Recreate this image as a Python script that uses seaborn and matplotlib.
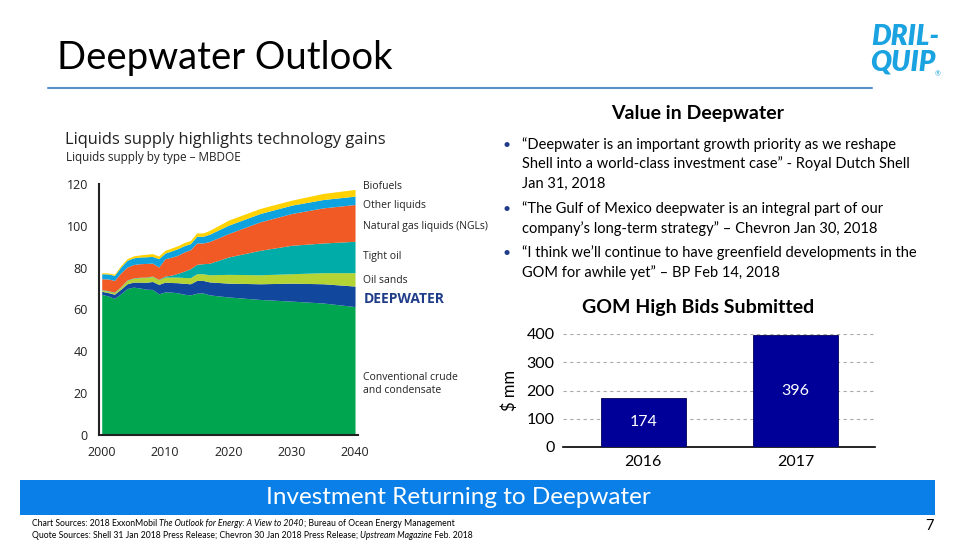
import numpy as np
import pandas as pd
import seaborn as sns
import matplotlib.pyplot as plt

# ---- liquids supply by type (MBDOE) ----
years = [2000, 2001, 2002, 2003, 2004, 2005, 2006, 2007, 2008, 2009, 2010, 2011,
         2012, 2013, 2014, 2015, 2016, 2017, 2020, 2025, 2030, 2035, 2040]
conventional = [67.2, 66.5, 65.3, 67.5, 70.0, 70.7, 70.3, 69.7, 69.6, 67.5, 68.4, 68.3,
                68.0, 67.3, 67.0, 67.8, 67.9, 67.0, 66.0, 64.8, 64.0, 63.1, 61.4]
deepwater = [1.5, 1.6, 2.0, 2.2, 2.3, 2.4, 2.8, 3.3, 3.8, 4.5, 4.7, 4.6,
             4.8, 5.2, 5.3, 6.1, 6.0, 6.2, 6.6, 7.5, 8.6, 9.2, 9.8]
oil_sands = [0.6, 0.7, 0.8, 1.0, 1.6, 1.8, 2.1, 2.3, 2.4, 2.2, 2.4, 2.6,
             2.7, 2.8, 2.9, 3.2, 3.2, 3.4, 4.2, 4.3, 4.5, 5.3, 6.4]
tight_oil = [0.2, 0.2, 0.2, 0.2, 0.2, 0.2, 0.2, 0.2, 0.2, 0.2, 0.5, 0.9,
             1.8, 3.0, 4.3, 4.5, 4.8, 5.5, 8.3, 11.7, 13.6, 14.2, 15.0]
ngls = [5.2, 5.6, 5.6, 6.6, 6.2, 6.4, 6.5, 6.5, 6.2, 5.9, 8.3, 8.6,
        8.6, 9.2, 9.1, 10.2, 9.9, 10.4, 11.2, 13.6, 15.2, 16.8, 17.6]
other_liquids = [2.4, 2.4, 2.4, 2.8, 3.2, 3.2, 3.2, 3.2, 3.2, 4.0, 2.7, 3.0,
                 3.2, 3.0, 2.9, 3.2, 3.2, 3.5, 4.0, 4.0, 4.0, 4.0, 4.0]
biofuels = [0.5, 0.5, 0.6, 0.7, 0.8, 0.9, 1.0, 1.2, 1.3, 1.3, 1.3, 1.4,
            1.4, 1.5, 1.5, 1.6, 1.6, 1.8, 2.4, 2.4, 2.4, 2.9, 3.2]
layer_colors = ['#00A54F', '#12479E', '#B4D334', '#00ACA8', '#F15A24', '#0EA3DE', '#FFD200']
layer_labels = ['Biofuels', 'Other liquids', 'Natural gas liquids (NGLs)', 'Tight oil',
                'Oil sands', 'DEEPWATER', 'Conventional crude\nand condensate']

# ---- GOM high bids submitted ($ mm) ----
bid_years = ['2016', '2017']
bid_values = [174, 396]

quotes = [
    ['\u201cDeepwater is an important growth priority as we reshape',
     'Shell into a world-class investment case\u201d - Royal Dutch Shell',
     'Jan 31, 2018'],
    ['\u201cThe Gulf of Mexico deepwater is an integral part of our',
     'company\u2019s long-term strategy\u201d \u2013 Chevron Jan 30, 2018'],
    ['\u201cI think we\u2019ll continue to have greenfield developments in the',
     'GOM for awhile yet\u201d \u2013 BP Feb 14, 2018'],
]

sns.set_theme(style='white')
plt.rcParams['font.family'] = ['Lato', 'DejaVu Sans']
side_font = ['Open Sans', 'DejaVu Sans']

W, H = 960, 540
fig = plt.figure(figsize=(9.6, 5.4), dpi=100)
fig.patch.set_facecolor('white')


def fx(px):
    return px / W


def fy(py):
    return 1 - py / H


def box(x0, y0, x1, y1):
    return [fx(x0), fy(y1), fx(x1) - fx(x0), fy(y0) - fy(y1)]


# slide title and rule
fig.text(fx(57), fy(58), 'Deepwater Outlook', fontsize=27.5, color='black', va='center', ha='left')
fig.add_artist(plt.Line2D([fx(48), fx(872)], [fy(88), fy(88)], color='#5B8FC7', lw=1.5))

# logo
fig.text(fx(905), fy(37), 'DRIL-', fontsize=20, fontweight='heavy', fontstyle='italic',
         color='#1AA3E0', ha='center', va='center')
fig.text(fx(903), fy(63), 'QUIP', fontsize=20, fontweight='heavy', fontstyle='italic',
         color='#1AA3E0', ha='center', va='center')
fig.text(fx(938), fy(74), '\u00ae', fontsize=5, color='#1AA3E0', ha='center', va='center')

# ---- stacked area chart ----
fig.text(fx(65), fy(140), 'Liquids supply highlights technology gains', fontsize=11.8,
         family=side_font, color='#222222', va='center')
fig.text(fx(66), fy(158), 'Liquids supply by type \u2013 MBDOE', fontsize=8.5,
         family=side_font, color='#222222', va='center')

ax1 = fig.add_axes(box(99, 184, 358, 435))
ax1.stackplot(years, conventional, deepwater, oil_sands, tight_oil, ngls, other_liquids,
              biofuels, colors=layer_colors, linewidth=0)
ax1.set_xlim(1999.57, 2040.47)
ax1.set_ylim(0, 120)
ax1.set_xticks([2000, 2010, 2020, 2030, 2040])
ax1.set_yticks([0, 20, 40, 60, 80, 100, 120])
ax1.tick_params(axis='both', length=0, labelsize=9, colors='#222222', pad=8)
for lab in ax1.get_xticklabels() + ax1.get_yticklabels():
    lab.set_family(side_font)
ax1.set_facecolor('none')
for side in ['top', 'right']:
    ax1.spines[side].set_visible(False)
for side in ['left', 'bottom']:
    ax1.spines[side].set_color('#222222')
    ax1.spines[side].set_linewidth(1.5)

label_y = [118.6, 109.6, 99.5, 85.2, 73.7, 65.1, 24.4]
for name, yv in zip(layer_labels, label_y):
    if name == 'DEEPWATER':
        ax1.text(2041.3, yv, name, fontsize=10, fontweight='bold', color='#1F3C88',
                 family=side_font, va='center', clip_on=False)
    else:
        ax1.text(2041.3, yv, name, fontsize=7.5, color='#222222', linespacing=1.15,
                 family=side_font, va='center', clip_on=False)

# ---- quotes ----
fig.text(fx(698), fy(113), 'Value in Deepwater', fontsize=14, fontweight='bold',
         ha='center', va='center', color='black')
line_y = [[145, 164, 184], [209, 229], [253, 273]]
for lines, ys in zip(quotes, line_y):
    fig.text(fx(502), fy(ys[0]), '\u2022', fontsize=10, color='#1F3C88', va='center')
    for txt, yy in zip(lines, ys):
        fig.text(fx(522), fy(yy), txt, fontsize=10.5, color='black', va='center')

# ---- bar chart ----
fig.text(fx(698), fy(308), 'GOM High Bids Submitted', fontsize=14, fontweight='bold',
         ha='center', va='center', color='black')
ax2 = fig.add_axes(box(563, 334, 875, 447))
bids = pd.DataFrame({'year': bid_years, 'value': bid_values})
sns.barplot(data=bids, x='year', y='value', color='#000099', saturation=1, width=0.56,
            edgecolor='#00005A', linewidth=0.6, ax=ax2, zorder=3)
ax2.set_xlim(-0.526, 1.52)
ax2.set_ylim(0, 400)
ax2.set_yticks([0, 100, 200, 300, 400])
ax2.yaxis.grid(True, linestyle=(0, (3, 3)), color='#AAAAAA', lw=0.8, zorder=0)
ax2.set_axisbelow(True)
ax2.set_xlabel('')
ax2.set_ylabel('$ mm', fontsize=12, labelpad=6, color='black')
ax2.tick_params(axis='both', length=0, labelsize=11.5, colors='black', pad=6)
for side in ['top', 'right', 'left']:
    ax2.spines[side].set_visible(False)
ax2.spines['bottom'].set_color('black')
ax2.spines['bottom'].set_linewidth(1.2)
for patch, v in zip(ax2.patches, bid_values):
    ax2.text(patch.get_x() + patch.get_width() / 2, v / 2, str(v), color='white',
             fontsize=11.5, ha='center', va='center', zorder=4)

# ---- banner and footer ----
fig.add_artist(plt.Rectangle((fx(20), fy(515)), fx(935) - fx(20), fy(480) - fy(515),
                             color='#0A7FE8', lw=0))
fig.text(fx(458), fy(498), 'Investment Returning to Deepwater', fontsize=17.5,
         color='white', ha='center', va='center')
fig.text(fx(930), fy(526), '7', fontsize=10.5, color='black', ha='center', va='center')

renderer = fig.canvas.get_renderer()


def rich_line(x_px, y_px, pieces, size=6.2):
    x = fx(x_px)
    for txt, style in pieces:
        t = fig.text(x, fy(y_px), txt, fontsize=size, fontstyle=style, color='black',
                     va='center', ha='left')
        bb = t.get_window_extent(renderer=renderer)
        x += bb.width / W


rich_line(32, 523, [('Chart Sources: 2018 ExxonMobil ', 'normal'),
                    ('The Outlook for Energy: A View to 2040', 'italic'),
                    ('; Bureau of Ocean Energy Management', 'normal')])
rich_line(32, 536, [('Quote Sources: Shell 31 Jan 2018 Press Release; Chevron 30 Jan 2018 Press Release; ',
                     'normal'),
                    ('Upstream Magazine', 'italic'),
                    (' Feb. 2018', 'normal')])

fig.savefig('out.png', dpi=100)
